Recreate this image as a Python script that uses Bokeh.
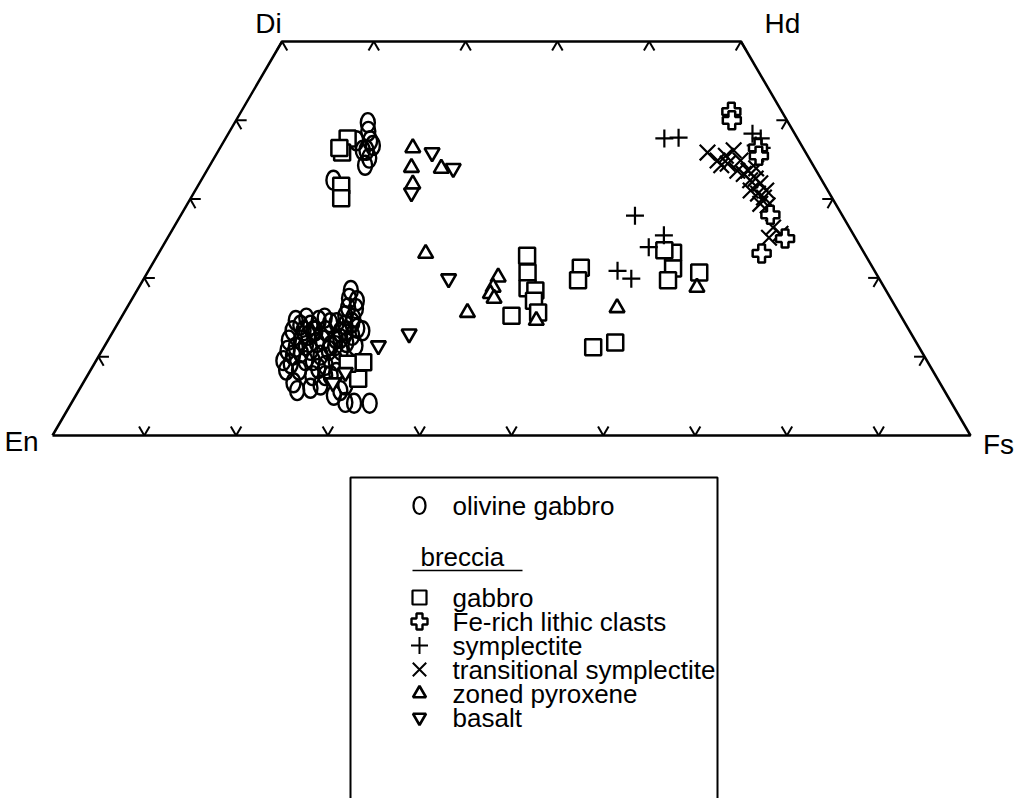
import numpy as np
from bokeh.plotting import figure
from bokeh.models import Range1d
from bokeh.embed import file_html
from bokeh.resources import INLINE
from bokeh.core.properties import value

# ---------------- data (Wo %, Fs %) ----------------
corner_names = ["En", "Di", "Hd", "Fs"]
corner_wo = [0, 50, 50, 0]
corner_fs = [0, 0, 50, 100]

ol_gabbro_wo = [39.7, 38.6, 37.4, 36.2, 35.2, 34.3, 32.4, 37.4, 36.8, 36.2,
                18.4, 17.4, 16.2, 14.9, 14.0, 13.1, 12.3, 11.4, 13.3, 14.6,
                14.0, 13.3, 12.1, 11.2, 10.2, 9.1, 8.3, 9.5, 10.8, 11.8,
                10.2, 8.9, 7.6, 9.5, 10.8, 11.8, 12.7, 13.6, 6.7, 5.7,
                7.6, 6.4, 4.2, 4.1, 4.1, 5.7, 14.9, 14.9, 14.3, 16.1,
                15.2, 10.5, 10.8, 13.3, 14.3, 8.3, 5.1,
                14.6, 14.0, 12.7, 13.3, 12.1, 10.8, 11.4, 12.3, 13.3, 14.3,
                17.1, 12.1, 13.3, 11.4, 9.5, 8.5, 7.6, 8.0, 6.4, 6.0,
                9.5, 11.4, 13.3]
ol_gabbro_fs = [14.5, 15.1, 15.9, 16.1, 16.9, 16.9, 14.4, 14.4, 16.5, 15.7,
                23.3, 23.6, 24.1, 25.3, 24.9, 24.8, 24.7, 24.6, 23.1, 21.7,
                21.1, 20.7, 21.0, 20.9, 21.1, 21.4, 22.7, 22.8, 22.7, 22.9,
                24.1, 25.3, 26.5, 26.1, 26.0, 26.1, 26.3, 26.4, 22.9, 23.8,
                24.5, 26.0, 29.8, 30.8, 32.5, 28.5, 20.2, 22.2, 23.8, 25.0,
                24.3, 21.8, 20.2, 21.8, 23.1, 21.3, 28.1,
                19.2, 20.0, 21.5, 22.0, 23.4, 24.7, 25.1, 25.2, 25.3, 25.5,
                24.6, 19.7, 19.5, 21.9, 23.6, 24.7, 25.9, 26.9, 28.7, 25.1,
                20.4, 27.3, 27.1]

gabbro_wo = [37.7, 35.9, 31.7, 30.1, 36.5,
             22.8, 20.7, 18.7, 18.4, 17.1, 15.6, 15.2, 21.3, 19.7,
             23.2, 23.5, 21.2, 19.7, 20.7, 11.2, 11.8,
             9.3, 7.2, 9.1]
gabbro_fs = [13.3, 13.6, 15.6, 16.4, 13.0,
             40.3, 41.4, 42.4, 43.4, 43.9, 45.1, 42.4, 46.9, 47.4,
             56.0, 54.9, 57.0, 57.2, 60.1, 53.3, 55.4,
             29.2, 29.7, 27.6]

fe_rich_wo = [41.1, 40.0, 36.5, 35.5, 28.0, 25.0, 23.1]
fe_rich_fs = [53.4, 54.0, 58.6, 59.2, 64.2, 67.3, 65.7]

symplectite_wo = [37.7, 37.8, 27.9, 25.4, 23.9, 20.9, 19.9, 38.3, 37.7, 36.8, 36.5]
symplectite_fs = [47.8, 49.3, 49.5, 53.9, 53.0, 51.1, 53.1, 57.1, 58.3, 58.2, 59.0]

trans_sym_wo = [35.9, 34.9, 35.5, 34.5, 36.2, 33.6, 33.2, 32.4, 32.6, 32.0,
                31.1, 30.7, 30.2, 29.4, 29.2, 26.4, 25.1, 25.6, 33.6, 33.9,
                34.3, 34.9, 31.1]
trans_sym_fs = [53.4, 55.0, 55.6, 56.3, 56.1, 57.8, 58.7, 59.8, 60.3, 61.1,
                60.5, 61.5, 62.4, 62.4, 63.3, 65.3, 65.5, 66.5, 59.0, 59.7,
                55.7, 57.5, 62.2]

zoned_wo = [36.5, 34.0, 31.9, 33.9, 23.1, 15.6, 20.1, 18.8, 18.0, 17.4, 14.6, 16.2, 18.8]
zoned_fs = [21.0, 22.1, 23.3, 25.4, 29.1, 37.4, 38.5, 38.6, 38.7, 39.4, 45.4, 53.4, 60.8]

basalt_wo = [35.9, 33.9, 30.8, 19.9, 12.9, 11.4, 6.7, 8.0]
basalt_fs = [23.4, 26.7, 23.7, 33.2, 32.4, 29.8, 27.2, 27.9]

legend_labels = ["olivine gabbro", "gabbro", "Fe-rich lithic clasts", "symplectite",
                 "transitional symplectite", "zoned pyroxene", "basalt"]
legend_header = "breccia"

# ---------------- helpers ----------------
def tern_x(wo, fs):
    return np.asarray(fs, float) + np.asarray(wo, float) / 2.0

def tern_y(wo):
    return np.asarray(wo, float)

W, H = 1020, 798
# layout (canvas px): En at (52,435), Fs at (970,435), Wo50 line at y 41
KX = (970 - 52) / 100.0
KY = (435 - 41) / 50.0

def dx(px):
    return (px - 52) / KX

def dy(py):
    return (435 - py) / KY

p = figure(width=W, height=H, output_backend="svg", toolbar_location=None,
           x_range=Range1d(dx(0), dx(W)), y_range=Range1d(dy(H), dy(0)),
           min_border=0, background_fill_color="white", border_fill_color="white")
p.axis.visible = False
p.grid.visible = False
p.outline_line_color = None

FONT = value("Liberation Sans")

# ---------------- frame ----------------
cw = corner_wo + [corner_wo[0]]
cf = corner_fs + [corner_fs[0]]
p.line(tern_x(cw, cf), tern_y(cw), line_color="black", line_width=2.5)

# ticks (chevrons, apex on edge)
L = 1.15
x0s, y0s, x1s, y1s = [], [], [], []
def chev(wo, fs, d1, d2):
    x, y = float(tern_x(wo, fs)), float(tern_y(wo))
    for (ddx, ddy) in (d1, d2):
        x0s.append(x); y0s.append(y)
        x1s.append(x + ddx * L); y1s.append(y + ddy * L)

for f in range(10, 100, 10):          # bottom En-Fs
    chev(0, f, (0.5, 1), (-0.5, 1))
for f in range(0, 51, 10):            # top Di-Hd
    chev(50, f, (0.5, -1), (-0.5, -1))
for w in range(10, 50, 10):           # left En-Di
    chev(w, 0, (1, 0), (0.5, -1))
for w in range(10, 50, 10):           # right Fs-Hd
    chev(w, 100 - w, (-1, 0), (-0.5, -1))
p.segment(x0s, y0s, x1s, y1s, line_color="black", line_width=2)

# corner labels
p.text(x=[dx(21), dx(268), dx(782), dx(998)], y=[dy(441), dy(23), dy(23), dy(444)],
       text=corner_names, text_font=FONT, text_font_size="28px",
       text_align="center", text_baseline="middle", text_color="black")

# ---------------- data marks ----------------
p.ellipse(tern_x(ol_gabbro_wo, ol_gabbro_fs), tern_y(ol_gabbro_wo),
          width=14, height=19, width_units="screen", height_units="screen",
          fill_alpha=0, line_color="black", line_width=2.4)
p.scatter(tern_x(gabbro_wo, gabbro_fs), tern_y(gabbro_wo), marker="square", size=16,
          fill_color="white", line_color="black", line_width=2.5)
p.scatter(tern_x(zoned_wo, zoned_fs), tern_y(zoned_wo), marker="triangle", size=15,
          fill_color="white", line_color="black", line_width=2.6)
p.scatter(tern_x(basalt_wo, basalt_fs), tern_y(basalt_wo), marker="inverted_triangle", size=15,
          fill_color="white", line_color="black", line_width=2.6)
p.scatter(tern_x(symplectite_wo, symplectite_fs), tern_y(symplectite_wo), marker="cross", size=18,
          line_color="black", line_width=2.2)
p.scatter(tern_x(trans_sym_wo, trans_sym_fs), tern_y(trans_sym_wo), marker="x", size=22,
          line_color="black", line_width=2.2)
p.scatter(tern_x(fe_rich_wo, fe_rich_fs), tern_y(fe_rich_wo), marker="plus", size=18,
          fill_color="white", line_color="black", line_width=2.5)

# ---------------- legend (drawn manually) ----------------
p.quad(left=[dx(350)], right=[dx(717)], top=[dy(477)], bottom=[dy(830)],
       fill_color="white", line_color="black", line_width=2)
MX, TX = 419, 452
p.ellipse([dx(MX)], [dy(505)], width=12, height=17, width_units="screen", height_units="screen",
          fill_alpha=0, line_color="black", line_width=2.2)
rows = [597, 621, 645, 669, 693, 717]
p.scatter([dx(MX)], [dy(rows[0])], marker="square", size=14, fill_color="white", line_color="black", line_width=2.2)
p.scatter([dx(MX)], [dy(rows[1])], marker="plus", size=16, fill_color="white", line_color="black", line_width=2.4)
p.scatter([dx(MX)], [dy(rows[2])], marker="cross", size=17, line_color="black", line_width=2)
p.scatter([dx(MX)], [dy(rows[3])], marker="x", size=19, line_color="black", line_width=2)
p.scatter([dx(MX)], [dy(rows[4])], marker="triangle", size=13, fill_color="white", line_color="black", line_width=2.6)
p.scatter([dx(MX)], [dy(rows[5])], marker="inverted_triangle", size=13, fill_color="white", line_color="black", line_width=2.6)

text_y = [505] + rows
p.text(x=[dx(TX)] * len(legend_labels), y=[dy(v) for v in text_y], text=legend_labels,
       text_font=FONT, text_font_size="26px", text_align="left", text_baseline="middle",
       text_color="black")
p.text(x=[dx(420)], y=[dy(556)], text=[legend_header], text_font=FONT, text_font_size="26px",
       text_align="left", text_baseline="middle", text_color="black")
p.segment([dx(412)], [dy(570)], [dx(522)], [dy(570)], line_color="black", line_width=1.5)

open("out.html", "w").write(file_html(p, INLINE))
